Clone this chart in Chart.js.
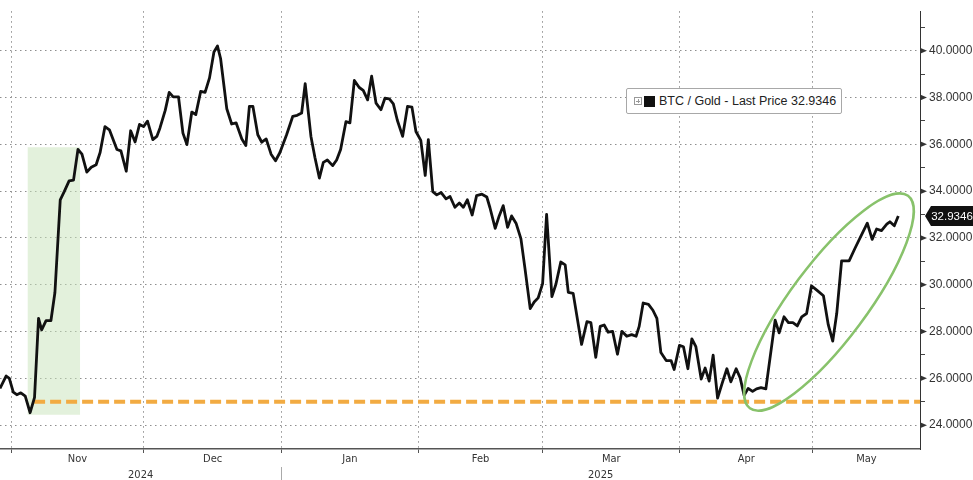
<!DOCTYPE html>
<html>
<head>
<meta charset="utf-8">
<script src="https://cdn.jsdelivr.net/npm/chart.js@4.4.1/dist/chart.umd.min.js"></script>
<style>
  html, body { margin: 0; padding: 0; background: #fff; }
  #wrap { position: relative; width: 973px; height: 480px; }
  #legendBox {
    position: absolute; left: 626px; top: 88px; height: 24px;
    padding: 0 5px 0 7px; border: 1px solid #a8a8a8; border-radius: 2px; background: #fff;
    font: 12.5px "Liberation Sans", Arial, sans-serif; color: #222;
    display: flex; align-items: center; white-space: nowrap;
  }
  #legendBox .plus {
    width: 6px; height: 6px; border: 1px solid #999; margin-right: 2px;
    background:
      linear-gradient(#999, #999) center / 4px 1px no-repeat,
      linear-gradient(#999, #999) center / 1px 4px no-repeat;
  }
  #legendBox .swatch { width: 11px; height: 11px; background: #111; margin-right: 4px; }
</style>
</head>
<body>
<div id="wrap">
  <canvas id="chart" width="973" height="480"></canvas>
  <div id="legendBox"><span class="plus"></span><span class="swatch"></span><span id="legendText"></span></div>
</div>
<script>
// x values are days counted from 1 Nov 2024
const days = [
  -2.5, -1.1, -0.4, 0.5, 1.3, 2.2, 3.2, 4.3, 5.3, 6.2, 6.9, 7.9, 9.0, 9.9, 11.1, 12.0, 13.1, 14.1, 15.1, 16.0,
  17.1, 18.1, 19.2, 20.1, 21.2, 22.2, 23.9, 24.8, 26.0, 27.0, 28.0, 29.0, 29.9, 30.8, 32.0, 32.9, 33.6, 34.8, 35.7, 36.6,
  37.8, 38.8, 39.7, 40.8, 41.7, 42.8, 43.8, 44.8, 45.8, 46.6, 47.3, 48.7, 49.8, 50.8, 52.1, 53.0, 53.8, 54.6, 55.7, 56.6,
  57.6, 58.7, 59.7, 60.7, 62.2, 63.6, 64.6, 65.6, 66.4, 67.7, 68.6, 69.6, 70.5, 71.4, 72.6, 73.5, 74.4, 75.6, 76.5, 77.5,
  78.6, 79.5, 80.5, 81.4, 82.4, 83.5, 84.4, 85.4, 86.3, 87.2, 88.4, 89.5, 90.5, 91.4, 92.5, 93.5, 94.2, 95.2, 96.1, 97.1,
  98.2, 99.1, 100.2, 101.2, 102.1, 103.0, 104.1, 105.1, 106.3, 107.4, 108.1, 109.3, 110.2, 111.1, 112.1, 113.0, 114.0, 115.1, 116.0, 117.2,
  118.1, 119.0, 120.0, 120.9, 122.1, 123.0, 124.1, 125.1, 125.8, 126.9, 128.8, 130.0, 130.9, 132.0, 133.0, 133.9, 134.8, 135.8, 136.9, 137.9,
  139.0, 140.1, 141.1, 141.8, 142.7, 143.9, 144.9, 145.8, 146.7, 147.9, 149.0, 149.7, 150.9, 151.8, 152.8, 153.7, 154.6, 155.8, 156.7, 157.6,
  158.5, 159.5, 160.6, 161.6, 162.5, 163.7, 164.6, 165.5, 166.4, 167.4, 168.3, 169.3, 170.4, 172.5, 173.4, 174.5, 175.5, 176.5, 177.5, 178.5,
  179.6, 180.7, 181.9, 183.4, 184.5, 185.5, 186.4, 187.5, 189.2, 190.5, 192.0, 193.3, 194.4, 195.4, 196.5, 197.7, 198.4, 199.4, 200.3
];
const btcGold = [
  25.57, 26.10, 26.00, 25.41, 25.30, 25.38, 25.24, 24.53, 25.19, 28.56, 28.07, 28.47, 28.47, 29.67, 33.63, 33.98, 34.44, 34.47, 35.78, 35.58,
  34.81, 35.02, 35.13, 35.65, 36.76, 36.62, 35.78, 35.72, 34.85, 36.58, 36.10, 36.85, 36.76, 36.99, 36.20, 36.34, 36.69, 37.45, 38.22, 38.03,
  38.03, 36.48, 35.99, 37.38, 37.27, 38.26, 38.22, 38.84, 39.95, 40.20, 39.67, 37.52, 36.87, 36.92, 36.23, 35.95, 37.62, 37.62, 36.41, 36.09,
  36.23, 35.58, 35.30, 35.65, 36.41, 37.20, 37.24, 37.34, 38.59, 36.34, 35.44, 34.56, 35.23, 35.33, 35.09, 35.33, 35.78, 36.97, 36.92, 38.73,
  38.43, 38.31, 37.90, 38.91, 37.76, 37.48, 37.97, 37.94, 37.73, 37.03, 36.34, 37.62, 37.59, 36.55, 36.17, 34.67, 36.20, 33.98, 33.84, 33.94,
  33.67, 33.77, 33.31, 33.49, 33.31, 33.63, 32.98, 33.81, 33.87, 33.75, 33.30, 32.41, 32.94, 33.38, 32.45, 32.94, 32.63, 31.97, 30.72, 28.98,
  29.26, 29.44, 30.05, 33.01, 29.49, 30.02, 30.97, 30.85, 29.67, 29.63, 27.45, 28.42, 28.38, 26.90, 28.22, 28.28, 27.97, 28.01, 27.03, 28.01,
  27.80, 27.87, 27.80, 28.22, 29.22, 29.16, 28.91, 28.56, 27.10, 26.76, 26.76, 26.38, 27.41, 27.35, 26.41, 27.69, 27.35, 25.97, 26.44, 25.88,
  26.99, 25.16, 25.83, 26.41, 25.85, 26.41, 26.02, 25.27, 25.57, 25.44, 25.55, 25.60, 25.55, 28.49, 27.94, 28.63, 28.38, 28.38, 28.24, 28.63,
  28.77, 29.95, 29.77, 29.53, 28.28, 27.59, 28.77, 31.02, 31.02, 31.55, 32.13, 32.63, 31.94, 32.38, 32.31, 32.59, 32.69, 32.52, 32.9346
];

// axis labels
const monthNames = ["Nov", "Dec", "Jan", "Feb", "Mar", "Apr", "May"];
const monthStarts = [0, 30, 61, 92, 120, 151, 181, 211];
const yearNames = ["2024", "2025"];
const yearStarts = [-61, 61];
const yTickValues = [24, 25, 26, 27, 28, 29, 30, 31, 32, 33, 34, 35, 36, 37, 38, 39, 40, 41];

// annotations (data units)
const supportLevel = 25.0;
const supportDays = [5.2, 205.2];
const rallyDays = [3.7, 15.6];
const rallyTop = 35.88;
const rallyBottom = 24.44;
const ringTips = [[166.8, 24.72], [202.5, 33.80]];

const xMin = -2.5, xMax = 205.2;
const yMin = 22.98, yMax = 41.69;

const condensed = "'DejaVu Sans Condensed', 'Liberation Sans Narrow', 'Liberation Sans', sans-serif";
const plain = "'Liberation Sans', Arial, sans-serif";

// month ticks: boundaries first (grid + tick marks), then labels centred on the visible part of each month
const monthTicks = [];
for (let i = 0; i < monthNames.length; i++) monthTicks.push({ value: monthStarts[i], label: "" });
for (let i = 0; i < monthNames.length; i++) {
  const a = Math.max(monthStarts[i], xMin), b = Math.min(monthStarts[i + 1], xMax);
  monthTicks.push({ value: (a + b) / 2, label: monthNames[i] });
}
const yearTicks = [{ value: yearStarts[1], label: "" }];
for (let i = 0; i < yearNames.length; i++) {
  const a = Math.max(yearStarts[i], xMin), b = i + 1 < yearStarts.length ? yearStarts[i + 1] : xMax;
  yearTicks.push({ value: (a + b) / 2, label: yearNames[i] });
}

const lastValue = btcGold[btcGold.length - 1];
document.getElementById("legendText").textContent = "BTC / Gold - Last Price " + lastValue.toFixed(4);

// ellipse, major tick arrows and last price tag
const overlay = {
  id: "overlay",
  afterDatasetsDraw(chart) {
    const { ctx, scales: { x, y } } = chart;
    const x1 = x.getPixelForValue(ringTips[0][0]), y1 = y.getPixelForValue(ringTips[0][1]);
    const x2 = x.getPixelForValue(ringTips[1][0]), y2 = y.getPixelForValue(ringTips[1][1]);
    const a = Math.hypot(x2 - x1, y2 - y1) / 2;
    ctx.save();
    ctx.strokeStyle = "#88c26b";
    ctx.lineWidth = 2.5;
    ctx.beginPath();
    ctx.ellipse((x1 + x2) / 2, (y1 + y2) / 2, a, 38, Math.atan2(y2 - y1, x2 - x1), 0, Math.PI * 2);
    ctx.stroke();
    ctx.restore();
  },
  afterDraw(chart) {
    const { ctx, scales: { y } } = chart;
    const left = y.left;
    ctx.save();
    ctx.fillStyle = "#333";
    yTickValues.forEach(v => {
      if (v % 2 !== 0) return;
      const py = y.getPixelForValue(v);
      ctx.beginPath();
      ctx.moveTo(left, py - 3);
      ctx.lineTo(left + 7, py);
      ctx.lineTo(left, py + 3);
      ctx.closePath();
      ctx.fill();
    });
    const ty = y.getPixelForValue(lastValue);
    ctx.fillStyle = "#111";
    ctx.beginPath();
    ctx.moveTo(left + 5, ty);
    ctx.lineTo(left + 11, ty - 10);
    ctx.lineTo(973, ty - 10);
    ctx.lineTo(973, ty + 10);
    ctx.lineTo(left + 11, ty + 10);
    ctx.closePath();
    ctx.fill();
    ctx.fillStyle = "#fff";
    ctx.font = "11.5px " + plain;
    ctx.textAlign = "center";
    ctx.textBaseline = "middle";
    ctx.fillText(lastValue.toFixed(4), left + 32, ty + 1);
    ctx.restore();
  }
};

new Chart(document.getElementById("chart"), {
  type: "line",
  data: {
    datasets: [
      {
        label: "BTC / Gold",
        data: btcGold.map((v, i) => ({ x: days[i], y: v })),
        borderColor: "#111",
        borderWidth: 2.8,
        pointRadius: 0,
        tension: 0,
        borderJoinStyle: "round",
        order: 0
      },
      {
        label: "support",
        data: supportDays.map(d => ({ x: d, y: supportLevel })),
        borderColor: "#f2ab42",
        borderWidth: 4,
        borderDash: [11, 5],
        pointRadius: 0,
        order: 1
      },
      {
        label: "rally",
        data: rallyDays.map(d => ({ x: d, y: rallyTop })),
        borderWidth: 0,
        borderColor: "rgba(0,0,0,0)",
        backgroundColor: "rgba(200,228,186,0.5)",
        fill: { value: rallyBottom },
        pointRadius: 0,
        order: 2
      }
    ]
  },
  options: {
    responsive: false,
    animation: false,
    devicePixelRatio: 1,
    layout: { padding: 0 },
    plugins: { legend: { display: false }, tooltip: { enabled: false } },
    scales: {
      x: {
        type: "linear",
        position: "bottom",
        weight: 0,
        min: xMin,
        max: xMax,
        afterBuildTicks: s => { s.ticks = monthTicks.map(t => ({ value: t.value })); },
        afterFit: s => { s.height = 18; },
        ticks: {
          autoSkip: false,
          maxRotation: 0,
          padding: 0,
          color: "#333",
          font: { family: condensed, size: 11 },
          callback: (v, i) => monthTicks[i] ? monthTicks[i].label : ""
        },
        grid: {
          color: c => c.index < monthNames.length ? "#8e8e8e" : "rgba(0,0,0,0)",
          lineWidth: 1,
          tickLength: 4,
          tickColor: c => c.index < monthNames.length ? "#555" : "rgba(0,0,0,0)"
        },
        border: { color: "#555", width: 1.5, dash: [1.5, 3.5] }
      },
      xYear: {
        type: "linear",
        position: "bottom",
        weight: 1,
        min: xMin,
        max: xMax,
        afterBuildTicks: s => { s.ticks = yearTicks.map(t => ({ value: t.value })); },
        afterFit: s => { s.height = 13; },
        ticks: {
          autoSkip: false,
          maxRotation: 0,
          padding: -11,
          color: "#333",
          font: { family: condensed, size: 11 },
          callback: (v, i) => yearTicks[i] ? yearTicks[i].label : ""
        },
        grid: {
          drawOnChartArea: false,
          color: "rgba(0,0,0,0)",
          tickLength: 13,
          tickWidth: 1,
          tickColor: c => c.index === 0 ? "#aaa" : "rgba(0,0,0,0)"
        },
        border: { display: false }
      },
      y: {
        type: "linear",
        position: "right",
        min: yMin,
        max: yMax,
        afterBuildTicks: s => { s.ticks = yTickValues.map(v => ({ value: v })); },
        afterFit: s => { s.width = 53; },
        ticks: {
          padding: 4,
          color: "#333",
          font: { family: plain, size: 12 },
          callback: v => v % 2 === 0 ? v.toFixed(4) : ""
        },
        grid: {
          color: c => c.tick && c.tick.value % 2 === 0 ? "#8e8e8e" : "rgba(0,0,0,0)",
          lineWidth: 1,
          tickLength: 5,
          tickColor: c => c.tick && c.tick.value % 2 !== 0 ? "#444" : "rgba(0,0,0,0)"
        },
        border: { color: "#333", width: 1, dash: [1.5, 3.5] }
      }
    }
  },
  plugins: [overlay]
});
</script>
</body>
</html>
